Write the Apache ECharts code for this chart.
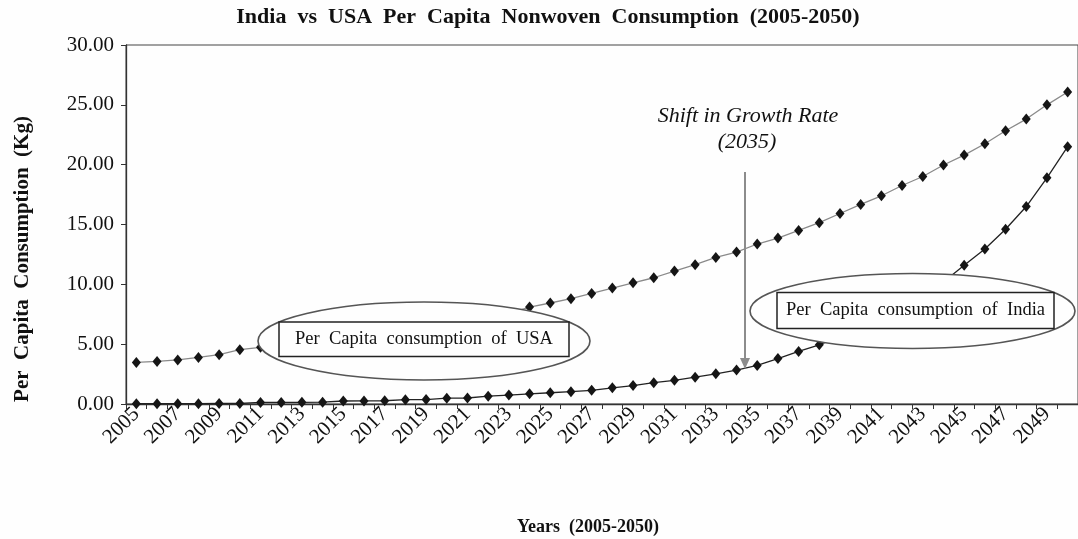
<!DOCTYPE html>
<html>
<head>
<meta charset="utf-8">
<script src="https://cdn.jsdelivr.net/npm/echarts@6/dist/echarts.min.js"></script>
<style>
html,body{margin:0;padding:0;background:#fefefe;}
#chart{width:1078px;height:539px;}
</style>
</head>
<body>
<div id="chart"></div>
<script>
const years = ['2005','2006','2007','2008','2009','2010','2011','2012','2013','2014','2015','2016','2017','2018','2019','2020','2021','2022','2023','2024','2025','2026','2027','2028','2029','2030','2031','2032','2033','2034','2035','2036','2037','2038','2039','2040','2041','2042','2043','2044','2045','2046','2047','2048','2049','2050'];
const usa = [3.47,3.56,3.68,3.89,4.12,4.54,4.74,4.94,5.14,5.35,5.56,5.78,6.00,6.23,6.46,6.70,6.95,7.22,7.58,8.10,8.44,8.80,9.24,9.69,10.13,10.55,11.11,11.64,12.25,12.70,13.37,13.87,14.50,15.15,15.92,16.68,17.40,18.26,19.01,19.97,20.80,21.75,22.83,23.81,25.00,26.07];
const india = [0.02,0.02,0.03,0.03,0.04,0.04,0.13,0.13,0.14,0.15,0.25,0.26,0.27,0.36,0.37,0.49,0.50,0.65,0.75,0.85,0.94,1.03,1.14,1.35,1.54,1.78,1.98,2.24,2.52,2.84,3.22,3.80,4.39,4.95,5.60,6.30,7.10,8.00,9.00,10.20,11.60,12.95,14.60,16.50,18.90,21.50];
const titleText = 'India  vs  USA  Per  Capita  Nonwoven  Consumption  (2005-2050)';
const xName = 'Years  (2005-2050)';
const yName = 'Per  Capita  Consumption  (Kg)';
const usaNote = 'Per  Capita  consumption  of  USA';
const indiaNote = 'Per  Capita  consumption  of  India';
const shiftNote = 'Shift in Growth Rate';
const shiftYear = '(2035)';

const SERIF = '"Liberation Serif", "DejaVu Serif", serif';
const chart = echarts.init(document.getElementById('chart'), null, {renderer: 'canvas'});

const option = {
  backgroundColor: '#fefefe',
  animation: false,
  grid: {
    left: 126, top: 45, right: -9, bottom: 135,
    show: true, borderColor: '#444', borderWidth: 1, backgroundColor: 'transparent'
  },
  xAxis: {
    type: 'category',
    data: years,
    boundaryGap: true,
    axisLine: {lineStyle: {color: '#333', width: 1.3}},
    axisTick: {show: true, interval: 0, length: 5, lineStyle: {color: '#333', width: 1}},
    axisLabel: {interval: 1, rotate: 45, margin: 7, fontFamily: SERIF, fontSize: 21, color: '#111'},
    splitLine: {show: false}
  },
  yAxis: {
    type: 'value',
    min: 0, max: 30, interval: 5,
    axisLine: {show: true, lineStyle: {color: '#333', width: 1.3}},
    axisTick: {show: true, length: 5, lineStyle: {color: '#333'}},
    axisLabel: {margin: 12, fontFamily: SERIF, fontSize: 21, color: '#111', formatter: v => v.toFixed(2)},
    splitLine: {show: false}
  },
  series: [
    {
      name: 'USA', type: 'line', data: usa,
      symbol: 'diamond', symbolSize: [9, 11],
      itemStyle: {color: '#151515'},
      lineStyle: {color: '#8a8a8a', width: 1.3}
    },
    {
      name: 'India', type: 'line', data: india,
      symbol: 'diamond', symbolSize: [9, 11],
      itemStyle: {color: '#151515'},
      lineStyle: {color: '#222', width: 1.3}
    }
  ],
  graphic: [
    // title
    {type: 'text', z: 53, style: {text: titleText, x: 548, y: 17, font: 'bold 22px ' + SERIF, fill: '#111',
      align: 'center', verticalAlign: 'middle', textAlign: 'center', textVerticalAlign: 'middle'}},
    // USA callout
    {type: 'ellipse', z: 50, shape: {cx: 424, cy: 341, rx: 166, ry: 39},
     style: {fill: '#fefefe', stroke: '#555', lineWidth: 1.6}},
    {type: 'rect', z: 51, shape: {x: 279, y: 322, width: 290, height: 34.5},
     style: {fill: '#fefefe', stroke: '#222', lineWidth: 1.5}},
    {type: 'text', z: 52, style: {text: usaNote, x: 424, y: 339.5, font: '18.5px ' + SERIF,
      fill: '#111', align: 'center', verticalAlign: 'middle', textAlign: 'center', textVerticalAlign: 'middle'}},
    // India callout
    {type: 'ellipse', z: 50, shape: {cx: 912.5, cy: 311, rx: 162.5, ry: 37.5},
     style: {fill: '#fefefe', stroke: '#555', lineWidth: 1.6}},
    {type: 'rect', z: 51, shape: {x: 777, y: 292.5, width: 277, height: 36},
     style: {fill: '#fefefe', stroke: '#222', lineWidth: 1.5}},
    {type: 'text', z: 52, style: {text: indiaNote, x: 915.5, y: 310.5, font: '18.5px ' + SERIF,
      fill: '#111', align: 'center', verticalAlign: 'middle', textAlign: 'center', textVerticalAlign: 'middle'}},
    // shift arrow
    {type: 'line', z: 53, shape: {x1: 745, y1: 172, x2: 745, y2: 360},
     style: {stroke: '#8c8c8c', lineWidth: 2}},
    {type: 'polygon', z: 53, shape: {points: [[740, 358], [750, 358], [745, 369]]},
     style: {fill: '#8c8c8c'}},
    {type: 'text', z: 53, style: {text: shiftNote, x: 748, y: 116, font: 'italic 22px ' + SERIF,
      fill: '#111', align: 'center', verticalAlign: 'middle', textAlign: 'center', textVerticalAlign: 'middle'}},
    {type: 'text', z: 53, style: {text: shiftYear, x: 747, y: 142, font: 'italic 22px ' + SERIF,
      fill: '#111', align: 'center', verticalAlign: 'middle', textAlign: 'center', textVerticalAlign: 'middle'}},
    // axis names
    {type: 'text', z: 53, x: 23, y: 259, rotation: Math.PI / 2,
     style: {text: yName, x: 0, y: 0, font: 'bold 21px ' + SERIF, fill: '#111',
      align: 'center', verticalAlign: 'middle', textAlign: 'center', textVerticalAlign: 'middle'}},
    {type: 'text', z: 53, style: {text: xName, x: 588, y: 527, font: 'bold 18px ' + SERIF, fill: '#111',
      align: 'center', verticalAlign: 'middle', textAlign: 'center', textVerticalAlign: 'middle'}}
  ]
};
chart.setOption(option);
</script>
</body>
</html>
